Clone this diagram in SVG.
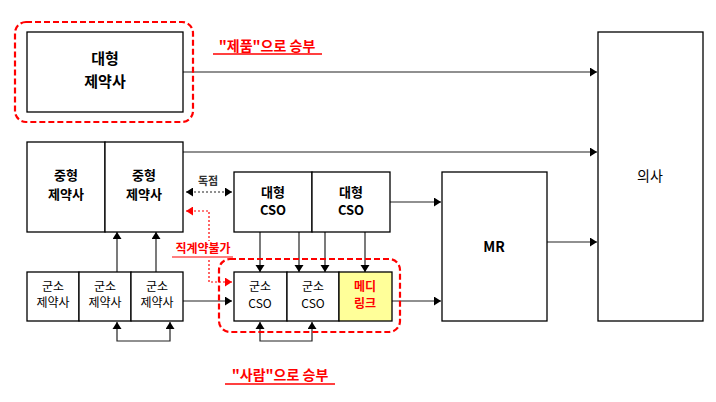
<svg xmlns="http://www.w3.org/2000/svg" width="716" height="402" viewBox="0 0 716 402">
<style>
.box{fill:#fff;stroke:#000;stroke-width:1.3}
.t{font-family:"Noto Sans CJK KR","Noto Sans",sans-serif;text-anchor:middle;fill:#000}
.b{font-weight:bold}
.ln{fill:none;stroke:#222;stroke-width:1.2}
.t.red{fill:#f00}
.rd{fill:none;stroke:#f00;stroke-width:2.2;stroke-dasharray:6 3}
</style>
<defs>
<marker id="ah" markerUnits="userSpaceOnUse" markerWidth="8" markerHeight="10" refX="7" refY="4.5" orient="auto"><path d="M0,0 L7,4.5 L0,9 Z" fill="#000"/></marker>
<marker id="ahs" markerUnits="userSpaceOnUse" markerWidth="8" markerHeight="10" refX="0" refY="4.5" orient="auto"><path d="M7,0 L0,4.5 L7,9 Z" fill="#000"/></marker>
<marker id="ahr" markerUnits="userSpaceOnUse" markerWidth="8" markerHeight="10" refX="7" refY="4.5" orient="auto"><path d="M0,0 L7,4.5 L0,9 Z" fill="#f00"/></marker>
<marker id="ahrs" markerUnits="userSpaceOnUse" markerWidth="8" markerHeight="10" refX="0" refY="4.5" orient="auto"><path d="M7,0 L0,4.5 L7,9 Z" fill="#f00"/></marker>
</defs>

<g id="connectors">
<line class="ln" x1="183" y1="72" x2="597" y2="72" marker-end="url(#ah)"/>
<line class="ln" x1="183" y1="152" x2="597" y2="152" marker-end="url(#ah)"/>
<line class="ln" x1="390" y1="202" x2="441" y2="202" marker-end="url(#ah)"/>
<line class="ln" x1="392" y1="301" x2="441" y2="301" marker-end="url(#ah)"/>
<line class="ln" x1="547" y1="242" x2="597" y2="242" marker-end="url(#ah)"/>
<line class="ln" x1="183" y1="301" x2="232" y2="301" marker-end="url(#ah)"/>
<line class="ln" x1="260" y1="232" x2="260" y2="272" marker-end="url(#ah)"/>
<line class="ln" x1="299" y1="232" x2="299" y2="272" marker-end="url(#ah)"/>
<line class="ln" x1="325" y1="232" x2="325" y2="272" marker-end="url(#ah)"/>
<line class="ln" x1="365" y1="232" x2="365" y2="272" marker-end="url(#ah)"/>
<line class="ln" x1="117" y1="272" x2="117" y2="232" marker-end="url(#ah)"/>
<line class="ln" x1="156" y1="272" x2="156" y2="232" marker-end="url(#ah)"/>
<path class="ln" d="M117,322 V341 H170 V322" marker-start="url(#ahs)" marker-end="url(#ah)"/>
<path class="ln" d="M260,322 V341 H312 V322" marker-start="url(#ahs)" marker-end="url(#ah)"/>
<line class="ln" x1="186" y1="192" x2="232" y2="192" stroke-dasharray="2 2" stroke-width="1.6" marker-start="url(#ahs)" marker-end="url(#ah)"/>
<path d="M186,211 H209 V282 H232" fill="none" stroke="#f00" stroke-width="1.2" stroke-dasharray="2 2" marker-start="url(#ahrs)" marker-end="url(#ahr)"/>
</g>

<g id="big-pharma">
<rect class="rd" x="15" y="22" width="178" height="100" rx="11"/>
<rect class="box" x="27" y="32" width="156" height="80"/>
<text class="t b" x="105" y="64" font-size="15">대형</text>
<text class="t b" x="105" y="87" font-size="15">제약사</text>
</g>

<g id="label-product">
<text class="t b red" x="267" y="51" font-size="14">"제품"으로 승부</text>
<line x1="213" y1="54" x2="322" y2="54" stroke="#f00" stroke-width="1.3"/>
</g>

<g id="mid-pharma-1">
<rect class="box" x="27" y="142" width="78" height="90"/>
<text class="t b" x="66" y="180" font-size="13">중형</text>
<text class="t b" x="66" y="199" font-size="13">제약사</text>
</g>
<g id="mid-pharma-2">
<rect class="box" x="105" y="142" width="78" height="90"/>
<text class="t b" x="144" y="180" font-size="13">중형</text>
<text class="t b" x="144" y="199" font-size="13">제약사</text>
</g>

<g id="label-exclusive">
<text class="t b" x="208" y="185" font-size="11" style="fill:#333">독점</text>
</g>

<g id="big-cso-1">
<rect class="box" x="234" y="172" width="78" height="60"/>
<text class="t b" x="273" y="197" font-size="13">대형</text>
<text class="t b" x="273" y="215" font-size="13">CSO</text>
</g>
<g id="big-cso-2">
<rect class="box" x="312" y="172" width="78" height="60"/>
<text class="t b" x="351" y="197" font-size="13">대형</text>
<text class="t b" x="351" y="215" font-size="13">CSO</text>
</g>

<g id="label-nodirect">
<rect x="171" y="241" width="64" height="19" fill="#fff"/>
<text class="t b red" x="203" y="253" font-size="12">직계약불가</text>
<line x1="172" y1="257" x2="233" y2="257" stroke="#f00" stroke-width="1.2"/>
</g>

<g id="small-pharma-1">
<rect class="box" x="27" y="272" width="52" height="49"/>
<text class="t" x="53" y="291" font-size="12">군소</text>
<text class="t" x="53" y="307" font-size="12">제약사</text>
</g>
<g id="small-pharma-2">
<rect class="box" x="79" y="272" width="52" height="49"/>
<text class="t" x="105" y="291" font-size="12">군소</text>
<text class="t" x="105" y="307" font-size="12">제약사</text>
</g>
<g id="small-pharma-3">
<rect class="box" x="131" y="272" width="52" height="49"/>
<text class="t" x="157" y="291" font-size="12">군소</text>
<text class="t" x="157" y="307" font-size="12">제약사</text>
</g>

<g id="small-cso-group">
<rect class="rd" x="219" y="259" width="181" height="73" rx="11"/>
</g>
<g id="small-cso-1">
<rect class="box" x="234" y="272" width="53" height="49"/>
<text class="t" x="260" y="291" font-size="12">군소</text>
<text class="t" x="260" y="308" font-size="12">CSO</text>
</g>
<g id="small-cso-2">
<rect class="box" x="287" y="272" width="52" height="49"/>
<text class="t" x="313" y="291" font-size="12">군소</text>
<text class="t" x="313" y="308" font-size="12">CSO</text>
</g>
<g id="medilink">
<rect class="box" x="339" y="272" width="53" height="49" style="fill:#ffff99"/>
<text class="t b red" x="365" y="291" font-size="12">메디</text>
<text class="t b red" x="365" y="308" font-size="12">링크</text>
</g>

<g id="mr">
<rect class="box" x="442" y="172" width="105" height="149"/>
<text class="t b" x="494" y="252" font-size="14">MR</text>
</g>

<g id="doctor">
<rect class="box" x="598" y="32" width="105" height="289"/>
<text class="t" x="650" y="181" font-size="14">의사</text>
</g>

<g id="label-people">
<text class="t b red" x="280" y="380" font-size="14">"사람"으로 승부</text>
<line x1="225" y1="384" x2="335" y2="384" stroke="#f00" stroke-width="1.3"/>
</g>
</svg>
